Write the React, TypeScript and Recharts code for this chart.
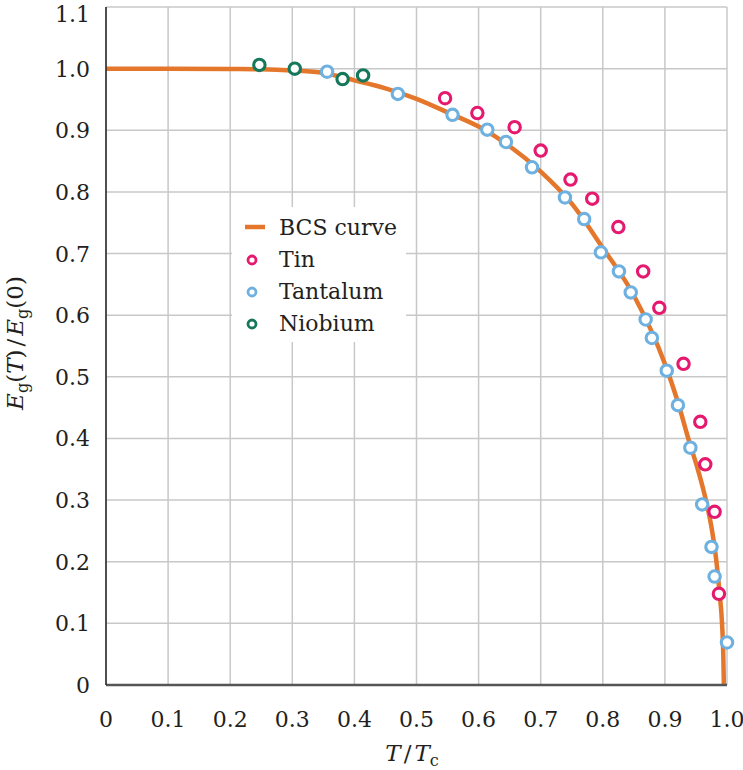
import React from 'react';
import { ComposedChart, Line, Scatter, XAxis, YAxis, CartesianGrid, Label } from 'recharts';

// BCS curve
const bcsT = [0, 0.1, 0.2, 0.25, 0.3, 0.35, 0.4, 0.45, 0.5, 0.55, 0.6, 0.65, 0.7, 0.75, 0.8, 0.85, 0.9, 0.92, 0.94, 0.953, 0.966, 0.976, 0.983, 0.988, 0.992, 0.994, 0.995];
const bcsGap = [1.0, 1.0, 0.9995, 0.999, 0.997, 0.993, 0.981, 0.968, 0.951, 0.929, 0.906, 0.874, 0.833, 0.781, 0.709, 0.632, 0.521, 0.462, 0.392, 0.35, 0.3, 0.25, 0.2, 0.15, 0.1, 0.05, 0];

// Tin
const tinT = [0.546, 0.598, 0.658, 0.700, 0.748, 0.783, 0.825, 0.865, 0.891, 0.930, 0.957, 0.965, 0.980, 0.987];
const tinGap = [0.952, 0.928, 0.905, 0.867, 0.820, 0.789, 0.743, 0.671, 0.612, 0.521, 0.427, 0.358, 0.281, 0.148];

// Tantalum
const taT = [0.356, 0.470, 0.558, 0.614, 0.644, 0.686, 0.739, 0.770, 0.797, 0.826, 0.845, 0.869, 0.879, 0.903, 0.921, 0.941, 0.960, 0.975, 0.980, 1.0];
const taGap = [0.995, 0.959, 0.925, 0.901, 0.881, 0.840, 0.791, 0.756, 0.702, 0.671, 0.637, 0.593, 0.563, 0.510, 0.454, 0.385, 0.293, 0.224, 0.176, 0.069];

// Niobium
const nbT = [0.247, 0.304, 0.381, 0.414];
const nbGap = [1.006, 1.0, 0.983, 0.989];

const xTicks = [0, 0.1, 0.2, 0.3, 0.4, 0.5, 0.6, 0.7, 0.8, 0.9, 1.0];
const yTicks = [0, 0.1, 0.2, 0.3, 0.4, 0.5, 0.6, 0.7, 0.8, 0.9, 1.0, 1.1];

const legendNames = ['BCS curve', 'Tin', 'Tantalum', 'Niobium'];
const legendKinds = ['line', 'circle', 'circle', 'circle'];

const COLORS: Record<string, string> = {
  'BCS curve': '#e4772b',
  Tin: '#e5196e',
  Tantalum: '#6eb1e1',
  Niobium: '#16785a',
};

const FONT = '"DejaVu Serif", serif';
const TEXT = '#231f20';

const zip = (xs: number[], ys: number[]) => xs.map((x, i) => ({ x, y: ys[i] }));
const bcsData = zip(bcsT, bcsGap);
const tinData = zip(tinT, tinGap);
const taData = zip(taT, taGap);
const nbData = zip(nbT, nbGap);

const fmtX = (v: number) => (v === 0 ? '0' : v.toFixed(1));
const fmtY = (v: number) => (v === 0 ? '0' : v.toFixed(1));

const XTick = (props: any) => {
  const { x, y, payload } = props;
  return (
    <text x={x} y={y + 41.5} textAnchor="middle" fontFamily={FONT} fontSize={22} fill={TEXT}>
      {fmtX(payload.value)}
    </text>
  );
};

const YTick = (props: any) => {
  const { x, y, payload } = props;
  const extra = Math.abs(payload.value - 1.1) < 1e-6 ? 7 : 0;
  return (
    <text x={x} y={y + 8 + extra} textAnchor="end" fontFamily={FONT} fontSize={22} fill={TEXT}>
      {fmtY(payload.value)}
    </text>
  );
};

const circleShape = (color: string) => (props: any) => {
  const { cx, cy } = props;
  if (cx == null || cy == null) return <g />;
  return <circle cx={cx} cy={cy} r={5.7} fill="#ffffff" stroke={color} strokeWidth={3.1} />;
};

const YLabel = () => (
  <text
    x={23}
    y={343}
    transform="rotate(-90, 23, 343)"
    textAnchor="middle"
    fontFamily={FONT}
    fontSize={23}
    fill={TEXT}
  >
    <tspan fontStyle="italic">E</tspan>
    <tspan fontSize={16} dy={5}>g</tspan>
    <tspan dy={-5}>(</tspan>
    <tspan fontStyle="italic">T</tspan>
    <tspan>)</tspan>
    <tspan dx={3}>/</tspan>
    <tspan dx={3} fontStyle="italic">E</tspan>
    <tspan fontSize={16} dy={5}>g</tspan>
    <tspan dy={-5}>(0)</tspan>
  </text>
);

const XLabel = () => (
  <text x={412} y={761} textAnchor="middle" fontFamily={FONT} fontSize={23} fill={TEXT}>
    <tspan fontStyle="italic">T</tspan>
    <tspan dx={3}>/</tspan>
    <tspan dx={3} fontStyle="italic">T</tspan>
    <tspan fontSize={16} dy={5}>c</tspan>
  </text>
);

const LegendBox = () => (
  <div
    style={{
      position: 'absolute',
      left: 232,
      top: 207,
      width: 174,
      height: 135,
      background: '#ffffff',
    }}
  >
    <svg width={174} height={135}>
      {legendNames.map((name, i) => {
        const cy = 20 + i * 32;
        const color = COLORS[name];
        return (
          <g key={name}>
            {legendKinds[i] === 'line' ? (
              <line x1={13} x2={33} y1={cy} y2={cy} stroke={color} strokeWidth={4.5} />
            ) : (
              <circle cx={20} cy={cy + 1} r={4} fill="#fff" stroke={color} strokeWidth={2.8} />
            )}
            <text x={47} y={cy + 8} fontFamily={FONT} fontSize={22} fill={TEXT}>
              {name}
            </text>
          </g>
        );
      })}
    </svg>
  </div>
);

export default function App() {
  return (
    <div style={{ position: 'absolute', left: 0, top: 0, width: 743, height: 770, background: '#fff' }}>
      <ComposedChart
        width={743}
        height={770}
        margin={{ top: 7, right: 16, left: 0, bottom: 55 }}
      >
        <CartesianGrid stroke="#c8c8c8" strokeWidth={1.5} />
        <XAxis
          type="number"
          dataKey="x"
          domain={[0, 1]}
          ticks={xTicks}
          interval={0}
          height={30}
          tickLine={false}
          tickSize={0}
          tickMargin={0}
          axisLine={{ stroke: '#555555', strokeWidth: 2.5 }}
          tick={<XTick />}
        >
          <Label content={<XLabel />} />
        </XAxis>
        <YAxis
          type="number"
          dataKey="y"
          domain={[0, 1.1]}
          ticks={yTicks}
          interval={0}
          width={106}
          tickLine={false}
          tickSize={0}
          tickMargin={16}
          axisLine={{ stroke: '#222222', strokeWidth: 1.5 }}
          tick={<YTick />}
        >
          <Label content={<YLabel />} />
        </YAxis>
        <Line
          data={bcsData}
          dataKey="y"
          type="monotone"
          stroke={COLORS['BCS curve']}
          strokeWidth={4.5}
          dot={false}
          activeDot={false}
          isAnimationActive={false}
        />
        <Scatter data={taData} dataKey="y" shape={circleShape(COLORS.Tantalum)} isAnimationActive={false} />
        <Scatter data={tinData} dataKey="y" shape={circleShape(COLORS.Tin)} isAnimationActive={false} />
        <Scatter data={nbData} dataKey="y" shape={circleShape(COLORS.Niobium)} isAnimationActive={false} />
      </ComposedChart>
      <LegendBox />
    </div>
  );
}
